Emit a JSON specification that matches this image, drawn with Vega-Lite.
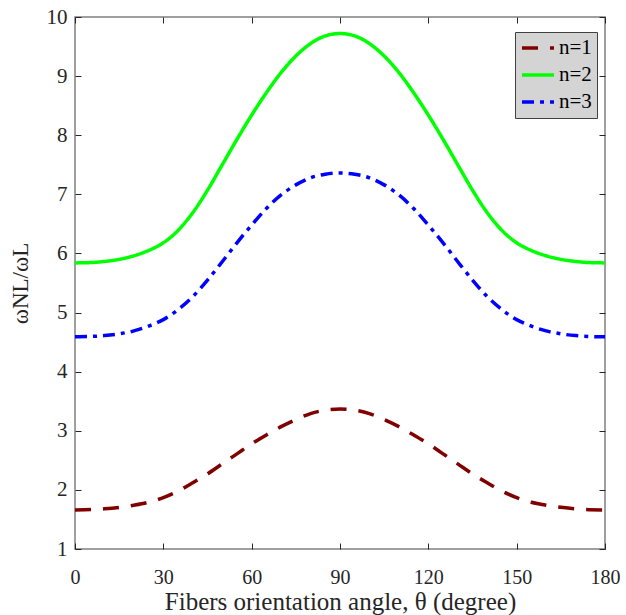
{
  "$schema": "https://vega.github.io/schema/vega-lite/v6.json",
  "width": 530,
  "height": 532,
  "autosize": {"type": "none"},
  "padding": {"left": 75, "top": 17, "right": 21, "bottom": 66},
  "background": "white",
  "config": {
    "view": {"stroke": "#808080", "strokeWidth": 1.5},
    "font": "Liberation Serif",
    "axis": {"grid": false, "domain": false, "labelFont": "Liberation Serif", "titleFont": "Liberation Serif", "labelColor": "#262626", "titleColor": "#262626", "tickColor": "#262626", "labelFontSize": 20, "titleFontSize": 23, "titleFontWeight": "normal", "tickSize": -6, "tickWidth": 1, "labelFlush": false}
  },
  "data": {"values": [
    {"theta": 0, "n": "n=1", "w": 1.66}, {"theta": 10, "n": "n=1", "w": 1.68}, {"theta": 20, "n": "n=1", "w": 1.74}, {"theta": 25, "n": "n=1", "w": 1.79}, {"theta": 30, "n": "n=1", "w": 1.87}, {"theta": 35, "n": "n=1", "w": 1.98}, {"theta": 40, "n": "n=1", "w": 2.12}, {"theta": 45, "n": "n=1", "w": 2.27}, {"theta": 50, "n": "n=1", "w": 2.44}, {"theta": 55, "n": "n=1", "w": 2.61}, {"theta": 60, "n": "n=1", "w": 2.78}, {"theta": 65, "n": "n=1", "w": 2.93}, {"theta": 70, "n": "n=1", "w": 3.07}, {"theta": 75, "n": "n=1", "w": 3.19}, {"theta": 80, "n": "n=1", "w": 3.29}, {"theta": 85, "n": "n=1", "w": 3.35}, {"theta": 90, "n": "n=1", "w": 3.37},
    {"theta": 95, "n": "n=1", "w": 3.35}, {"theta": 100, "n": "n=1", "w": 3.29}, {"theta": 105, "n": "n=1", "w": 3.19}, {"theta": 110, "n": "n=1", "w": 3.07}, {"theta": 115, "n": "n=1", "w": 2.93}, {"theta": 120, "n": "n=1", "w": 2.78}, {"theta": 125, "n": "n=1", "w": 2.61}, {"theta": 130, "n": "n=1", "w": 2.44}, {"theta": 135, "n": "n=1", "w": 2.27}, {"theta": 140, "n": "n=1", "w": 2.12}, {"theta": 145, "n": "n=1", "w": 1.98}, {"theta": 150, "n": "n=1", "w": 1.87}, {"theta": 155, "n": "n=1", "w": 1.79}, {"theta": 160, "n": "n=1", "w": 1.74}, {"theta": 170, "n": "n=1", "w": 1.68}, {"theta": 180, "n": "n=1", "w": 1.66},
    {"theta": 0, "n": "n=2", "w": 5.84}, {"theta": 5, "n": "n=2", "w": 5.845}, {"theta": 10, "n": "n=2", "w": 5.865}, {"theta": 15, "n": "n=2", "w": 5.9}, {"theta": 20, "n": "n=2", "w": 5.96}, {"theta": 25, "n": "n=2", "w": 6.05}, {"theta": 30, "n": "n=2", "w": 6.18}, {"theta": 35, "n": "n=2", "w": 6.39}, {"theta": 40, "n": "n=2", "w": 6.69}, {"theta": 45, "n": "n=2", "w": 7.07}, {"theta": 50, "n": "n=2", "w": 7.5}, {"theta": 55, "n": "n=2", "w": 7.93}, {"theta": 60, "n": "n=2", "w": 8.34}, {"theta": 65, "n": "n=2", "w": 8.72}, {"theta": 70, "n": "n=2", "w": 9.06}, {"theta": 75, "n": "n=2", "w": 9.34}, {"theta": 80, "n": "n=2", "w": 9.55}, {"theta": 85, "n": "n=2", "w": 9.68}, {"theta": 90, "n": "n=2", "w": 9.72},
    {"theta": 95, "n": "n=2", "w": 9.68}, {"theta": 100, "n": "n=2", "w": 9.55}, {"theta": 105, "n": "n=2", "w": 9.34}, {"theta": 110, "n": "n=2", "w": 9.06}, {"theta": 115, "n": "n=2", "w": 8.72}, {"theta": 120, "n": "n=2", "w": 8.34}, {"theta": 125, "n": "n=2", "w": 7.93}, {"theta": 130, "n": "n=2", "w": 7.5}, {"theta": 135, "n": "n=2", "w": 7.07}, {"theta": 140, "n": "n=2", "w": 6.69}, {"theta": 145, "n": "n=2", "w": 6.39}, {"theta": 150, "n": "n=2", "w": 6.18}, {"theta": 155, "n": "n=2", "w": 6.05}, {"theta": 160, "n": "n=2", "w": 5.96}, {"theta": 165, "n": "n=2", "w": 5.9}, {"theta": 170, "n": "n=2", "w": 5.865}, {"theta": 175, "n": "n=2", "w": 5.845}, {"theta": 180, "n": "n=2", "w": 5.84},
    {"theta": 0, "n": "n=3", "w": 4.59}, {"theta": 5, "n": "n=3", "w": 4.595}, {"theta": 10, "n": "n=3", "w": 4.61}, {"theta": 15, "n": "n=3", "w": 4.64}, {"theta": 20, "n": "n=3", "w": 4.69}, {"theta": 25, "n": "n=3", "w": 4.77}, {"theta": 30, "n": "n=3", "w": 4.88}, {"theta": 35, "n": "n=3", "w": 5.05}, {"theta": 40, "n": "n=3", "w": 5.27}, {"theta": 45, "n": "n=3", "w": 5.55}, {"theta": 50, "n": "n=3", "w": 5.86}, {"theta": 55, "n": "n=3", "w": 6.18}, {"theta": 60, "n": "n=3", "w": 6.48}, {"theta": 65, "n": "n=3", "w": 6.76}, {"theta": 70, "n": "n=3", "w": 6.99}, {"theta": 75, "n": "n=3", "w": 7.16}, {"theta": 80, "n": "n=3", "w": 7.28}, {"theta": 85, "n": "n=3", "w": 7.34}, {"theta": 90, "n": "n=3", "w": 7.36},
    {"theta": 95, "n": "n=3", "w": 7.34}, {"theta": 100, "n": "n=3", "w": 7.28}, {"theta": 105, "n": "n=3", "w": 7.16}, {"theta": 110, "n": "n=3", "w": 6.99}, {"theta": 115, "n": "n=3", "w": 6.76}, {"theta": 120, "n": "n=3", "w": 6.48}, {"theta": 125, "n": "n=3", "w": 6.18}, {"theta": 130, "n": "n=3", "w": 5.86}, {"theta": 135, "n": "n=3", "w": 5.55}, {"theta": 140, "n": "n=3", "w": 5.27}, {"theta": 145, "n": "n=3", "w": 5.05}, {"theta": 150, "n": "n=3", "w": 4.88}, {"theta": 155, "n": "n=3", "w": 4.77}, {"theta": 160, "n": "n=3", "w": 4.69}, {"theta": 165, "n": "n=3", "w": 4.64}, {"theta": 170, "n": "n=3", "w": 4.61}, {"theta": 175, "n": "n=3", "w": 4.595}, {"theta": 180, "n": "n=3", "w": 4.59}
  ]},
  "resolve": {"axis": {"x": "independent", "y": "independent"}},
  "layer": [
    {
      "mark": {"type": "line", "strokeWidth": 3.5, "interpolate": "monotone"},
      "encoding": {
        "x": {"field": "theta", "type": "quantitative", "scale": {"domain": [0, 180], "nice": false},
          "axis": {"orient": "bottom", "values": [0, 30, 60, 90, 120, 150, 180], "labelPadding": 24, "titlePadding": 2, "titleFontSize": 25, "title": "Fibers orientation angle, θ (degree)"}},
        "y": {"field": "w", "type": "quantitative", "scale": {"domain": [1, 10], "nice": false, "zero": false},
          "axis": {"orient": "left", "values": [1, 2, 3, 4, 5, 6, 7, 8, 9, 10], "labelPadding": 14, "labelFontSize": 21, "titlePadding": 14, "title": "ωNL/ωL"}},
        "color": {"field": "n", "type": "nominal", "scale": {"domain": ["n=1", "n=2", "n=3"], "range": ["#800000", "#00ff00", "#0000ff"]},
          "legend": {"title": null, "orient": "none", "legendX": 440, "legendY": 15, "fillColor": "#d4d4d4", "strokeColor": "#404040", "padding": 5, "symbolType": "stroke", "symbolSize": 1024, "clipHeight": 22, "symbolStrokeWidth": 3.5, "labelFont": "Liberation Serif", "labelFontSize": 21, "labelColor": "#000000", "rowPadding": 5, "labelOffset": 3}},
        "strokeDash": {"field": "n", "type": "nominal", "scale": {"domain": ["n=1", "n=2", "n=3"], "range": [[16, 12], [1, 0], [12, 6, 4, 6]]}, "legend": {"title": null}}
      }
    },
    {
      "mark": {"type": "line", "opacity": 0},
      "encoding": {
        "x": {"field": "theta", "type": "quantitative", "axis": {"orient": "top", "values": [0, 30, 60, 90, 120, 150, 180], "labels": false, "title": null}},
        "y": {"field": "w", "type": "quantitative", "axis": {"orient": "right", "values": [1, 2, 3, 4, 5, 6, 7, 8, 9, 10], "labels": false, "title": null}}
      }
    }
  ]
}
